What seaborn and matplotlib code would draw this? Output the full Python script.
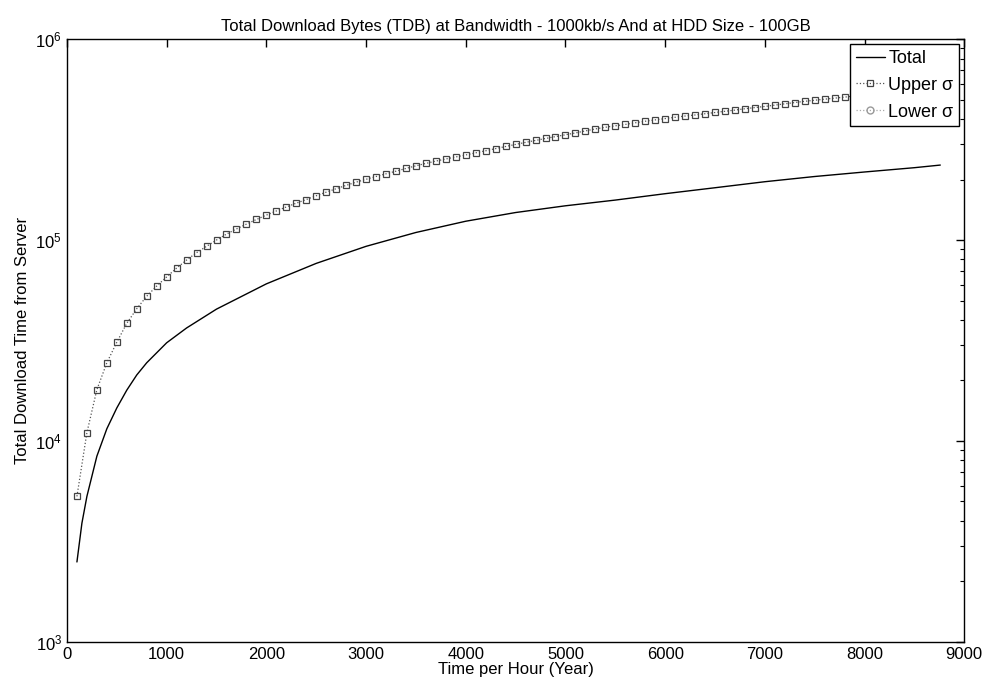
import numpy as np
import pandas as pd
import matplotlib
matplotlib.use("Agg")
import matplotlib.pyplot as plt
import seaborn as sns
from matplotlib.ticker import LogLocator, LogFormatterMathtext, NullFormatter

# values
hours_total = [100, 150, 200, 300, 400, 500, 600, 700, 800, 1000, 1200, 1500, 2000, 2500,
               3000, 3500, 4000, 4500, 5000, 5500, 6000, 6500, 7000, 7500, 8000, 8500, 8760]
total = [2500, 3900, 5300, 8400, 11500, 14600, 17900, 21300, 24500, 30800, 36500, 45300,
         60500, 76500, 93000, 109000, 124000, 137000, 148000, 158000, 170000, 182000,
         195000, 207000, 218000, 229000, 236000]

hours_upper = list(range(100, 8800, 100))
upper = [5300, 11000, 18000, 24500, 31000, 38500, 45500, 52500, 59000, 65500,
         72500, 79500, 86500, 93000, 100000, 107000, 113500, 120000, 126500, 133000,
         139500, 146000, 152500, 159000, 166000, 173000, 180000, 187000, 194000, 200500,
         207000, 213500, 220000, 227000, 234000, 240500, 247000, 253000, 259000, 265000,
         271500, 278000, 285000, 292000, 299000, 306000, 313000, 320000, 327000, 334000,
         341000, 349000, 357000, 364000, 370000, 376000, 383000, 390000, 396000, 402000,
         408000, 414000, 419000, 425000, 431000, 437000, 443000, 450000, 456000, 462000,
         469000, 476000, 483000, 490000, 496000, 502000, 508000, 514000, 521000, 528000,
         535000, 541000, 548000, 555000, 562000, 568000, 575000]

# lower sigma falls below zero, so nothing of it shows on the log axis
hours_lower = []
lower = []

df_total = pd.DataFrame({"hour": hours_total, "value": total})
df_upper = pd.DataFrame({"hour": hours_upper, "value": upper})
df_lower = pd.DataFrame({"hour": hours_lower, "value": lower}, dtype=float)

sns.set_style("white")
plt.rcParams["font.family"] = ["Liberation Sans", "DejaVu Sans"]
plt.rcParams["text.color"] = "black"
plt.rcParams["axes.labelcolor"] = "black"
plt.rcParams["mathtext.fontset"] = "custom"
plt.rcParams["mathtext.rm"] = "Liberation Sans"
plt.rcParams["mathtext.it"] = "Liberation Sans:italic"

fig = plt.figure(figsize=(9.92, 6.91), dpi=100)
ax = fig.add_axes([0.0675, 0.071, 0.9045, 0.8725])

sns.lineplot(data=df_total, x="hour", y="value", ax=ax, color="black", linewidth=1.0,
             label="Total")
sns.lineplot(data=df_upper, x="hour", y="value", ax=ax, color="#555555", linewidth=0.9,
             linestyle=":", marker="s", markersize=5, markerfacecolor="none",
             markeredgecolor="#444444", markeredgewidth=0.9, label="Upper σ")
ax.plot(df_lower["hour"], df_lower["value"], color="#aaaaaa", linewidth=0.9,
        linestyle=":", marker="o", markersize=5, markerfacecolor="none",
        markeredgecolor="#999999", label="Lower σ")

ax.set_yscale("log")
ax.set_xlim(0, 9000)
ax.set_ylim(1e3, 1e6)
ax.set_xticks(range(0, 9001, 1000))
ax.yaxis.set_major_locator(LogLocator(base=10))
ax.yaxis.set_major_formatter(LogFormatterMathtext())
ax.yaxis.set_minor_locator(LogLocator(base=10, subs=np.arange(2, 10)))
ax.yaxis.set_minor_formatter(NullFormatter())

ax.tick_params(which="both", direction="in", top=True, right=True, labelsize=12,
               colors="black")
ax.tick_params(which="major", length=6, width=1)
ax.tick_params(which="minor", length=3, width=0.8)
for s in ax.spines.values():
    s.set_color("black")
    s.set_linewidth(1.0)

ax.set_title("Total Download Bytes (TDB) at Bandwidth - 1000kb/s And at HDD Size - 100GB",
             fontsize=12, pad=6)
ax.set_xlabel("Time per Hour (Year)", fontsize=12, labelpad=0)
ax.set_ylabel("Total Download Time from Server", fontsize=12, labelpad=4)

leg = ax.legend(loc="upper right", fontsize=13, frameon=True, fancybox=False,
                edgecolor="black", framealpha=1, handlelength=1.6, handletextpad=0.2,
                borderpad=0.3, labelspacing=0.55, borderaxespad=0.3)
leg.get_frame().set_linewidth(1.0)
leg.set_zorder(10)

fig.savefig("out.png", dpi=100)
